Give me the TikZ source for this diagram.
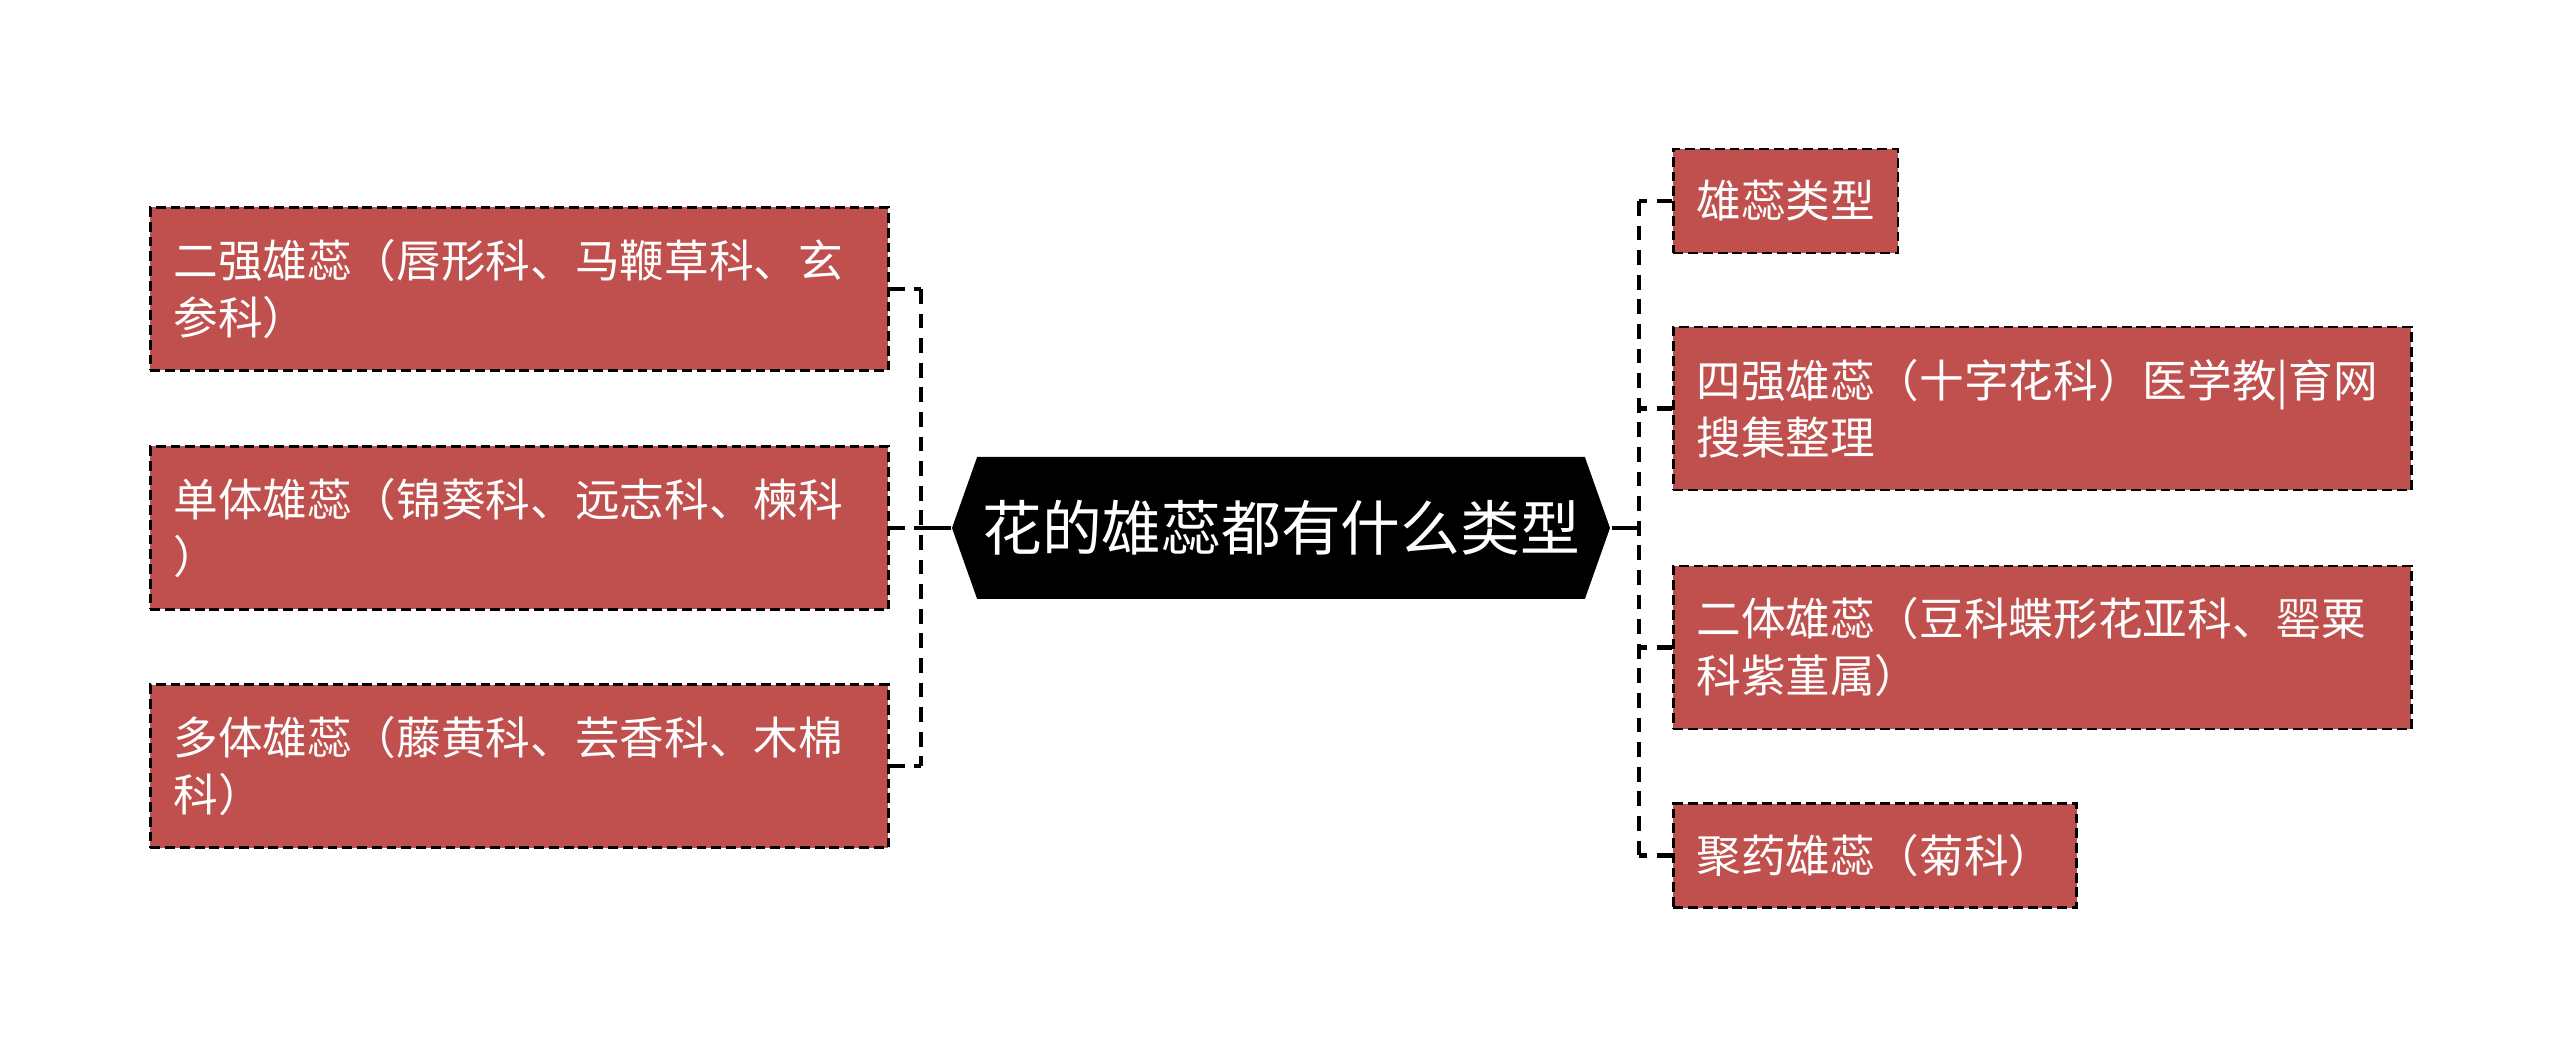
\documentclass[tikz,border=0pt]{standalone}
\usepackage{fontspec}
\setmainfont{Noto Sans CJK SC}
\usetikzlibrary{shapes.symbols}
\definecolor{leafred}{RGB}{192,80,77}

\begin{document}
\begin{tikzpicture}[auto,thick,
			root node/.style={signal,signal to=west and east,signal pointer angle=141,fill=black,text=white,
				font=\fontsize{17pt}{20pt}\selectfont,minimum width=6.58cm,minimum height=1.42cm,inner sep=0pt},
			leaf node/.style={rectangle,draw=black,fill=leafred,text=white,dash pattern=on 2.8pt off 1.4pt,
				line width=0.8pt,font=\fontsize{12.7pt}{16.2pt}\selectfont,inner xsep=0.23cm,inner ysep=0pt,
				anchor=west,align=left},
			wide node/.style={leaf node,text width=6.92cm,minimum height=1.63cm},
			small node/.style={leaf node,minimum height=1.04cm},
			link/.style={dash pattern=on 4.2pt off 2.8pt,line width=1.4pt}]
			
			\useasboundingbox (0,0) rectangle (25.6,-10.57);
			
			\node[root node] (Root) at (12.81,-5.28) {花的雄蕊都有什么类型};
			
			\node[wide node] (L1) at (1.49,-2.89) {二强雄蕊（唇形科、马鞭草科、玄\\参科）};
			\node[wide node] (L2) at (1.49,-5.28) {单体雄蕊（锦葵科、远志科、楝科\\）};
			\node[wide node] (L3) at (1.49,-7.66) {多体雄蕊（藤黄科、芸香科、木棉\\科）};
			
			\node[small node] (R1) at (16.72,-2.01) {雄蕊类型};
			\node[wide node] (R2) at (16.72,-4.085) {四强雄蕊（十字花科）医学教|育网\\搜集整理};
			\node[wide node] (R3) at (16.72,-6.475) {二体雄蕊（豆科蝶形花亚科、罂粟\\科紫堇属）};
			\node[small node] (R4) at (16.72,-8.555) {聚药雄蕊（菊科）};
			
			\coordinate (LBus) at (9.21,-5.28);
			\coordinate (RBus) at (16.39,-5.28);
			
			% trunk lines from the root
			\draw[line width=1.4pt] (Root.west) -- (LBus);
			\draw[line width=1.4pt] (Root.east) -- (RBus);
			
			% left branch
			\draw[link] (L1.east -| LBus) -- (L3.east -| LBus);
			\foreach \n in {L1,L2,L3}
				\draw[link] (\n.east) -- (\n.east -| LBus);
			
			% right branch
			\draw[link] (R1.west -| RBus) -- (R4.west -| RBus);
			\foreach \n in {R1,R2,R3,R4}
				\draw[link] (\n.west) -- (\n.west -| RBus);
\end{tikzpicture}
\end{document}
